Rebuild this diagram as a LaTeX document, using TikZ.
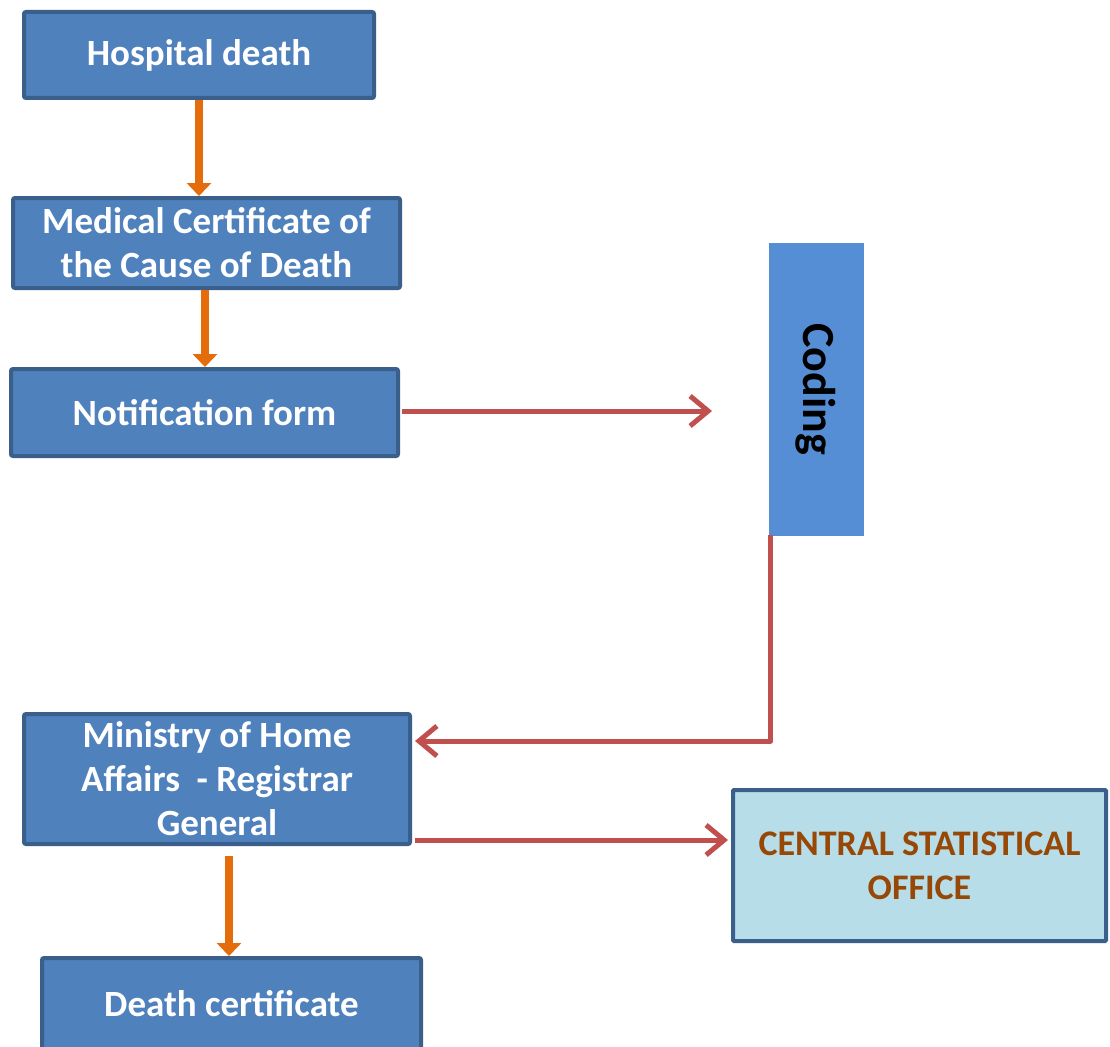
\documentclass[tikz,border=0pt]{standalone}
\usepackage{fontspec}
\setmainfont{Carlito}
\usetikzlibrary{arrows.meta}
\definecolor{boxfill}{HTML}{4F81BD}
\definecolor{boxedge}{HTML}{3A5F8B}
\definecolor{codfill}{HTML}{558ED5}
\definecolor{csofill}{HTML}{B7DEE8}
\definecolor{csotext}{HTML}{984806}
\definecolor{redline}{HTML}{C0504D}
\definecolor{orangeline}{HTML}{E46C0A}
\begin{document}
\begin{tikzpicture}[x=1pt,y=-1pt,
  bluebox/.style={draw=boxedge, line width=4pt, fill=boxfill, rounded corners=2pt,
    text=white, align=center, inner sep=0pt,
    font=\fontsize{37}{44}\selectfont\bfseries},
  codbox/.style={fill=codfill, draw=codfill, line width=0.5pt, inner sep=0pt,
    text=black, font=\fontsize{46}{50}\selectfont\bfseries},
  csobox/.style={draw=boxedge, line width=4pt, fill=csofill, rounded corners=1pt,
    text=csotext, align=center, inner sep=0pt,
    font=\fontsize{36}{44}\selectfont\bfseries},
  orarrow/.style={draw=orangeline, line width=8pt, -{Triangle[length=13pt,width=24pt]}},
  redarrow/.style={draw=redline, line width=5pt, line join=round,
    -{Straight Barb[length=18pt,width=30pt,line width=5pt]}}
]
\useasboundingbox (0,0) rectangle (1110,1046);
\fill[white] (0,0) rectangle (1110,1046);
\begin{scope}
\clip (0,0) rectangle (1110,1046);

\node[bluebox, minimum width=350pt, minimum height=86pt] (hd) at (199,55) {Hospital death};
\node[bluebox, minimum width=387pt, minimum height=90pt] (mc) at (206.5,243) {Medical Certificate of\\the Cause of Death};
\node[bluebox, minimum width=387pt, minimum height=87pt] (nf) at (204.5,412.5) {Notification form};
\node[codbox, minimum width=94pt, minimum height=292pt] (cd) at (816,389) {};
\node[codbox, rotate=-90] (cdt) at (816,389) {Coding};
\node[bluebox, minimum width=386pt, minimum height=130pt] (mi) at (217,779) {Ministry of Home\\Affairs\ \ - Registrar\\General};
\node[bluebox, minimum width=379pt, minimum height=92pt] (dc) at (231.5,1004) {\raisebox{2pt}{Death certificate}};
\node[csobox, minimum width=373pt, minimum height=151pt] (cso) at (919.5,865.5) {CENTRAL STATISTICAL\\OFFICE};

\coordinate (cdin) at (712,411);

\draw[orarrow] (hd.south) -- (hd.south |- mc.north);
\draw[orarrow] ([xshift=-1.5pt]mc.south) -- ([xshift=-1.5pt]mc.south |- nf.north);
\draw[redarrow] ([xshift=2pt,yshift=1.5pt]nf.east) -- ([yshift=1.5pt]nf.east -| cdin);
\draw[redarrow] ([xshift=2pt]cd.south west) |- ([xshift=3pt,yshift=38pt]mi.east);
\draw[redarrow] ([xshift=3pt,yshift=-61pt]mi.east) -- ([xshift=-3pt,yshift=-61pt]mi.east -| cso.west);
\draw[orarrow] ([xshift=12pt,yshift=-10pt]mi.south) -- ([xshift=12pt]mi.south |- dc.north);
\end{scope}
\end{tikzpicture}
\end{document}
